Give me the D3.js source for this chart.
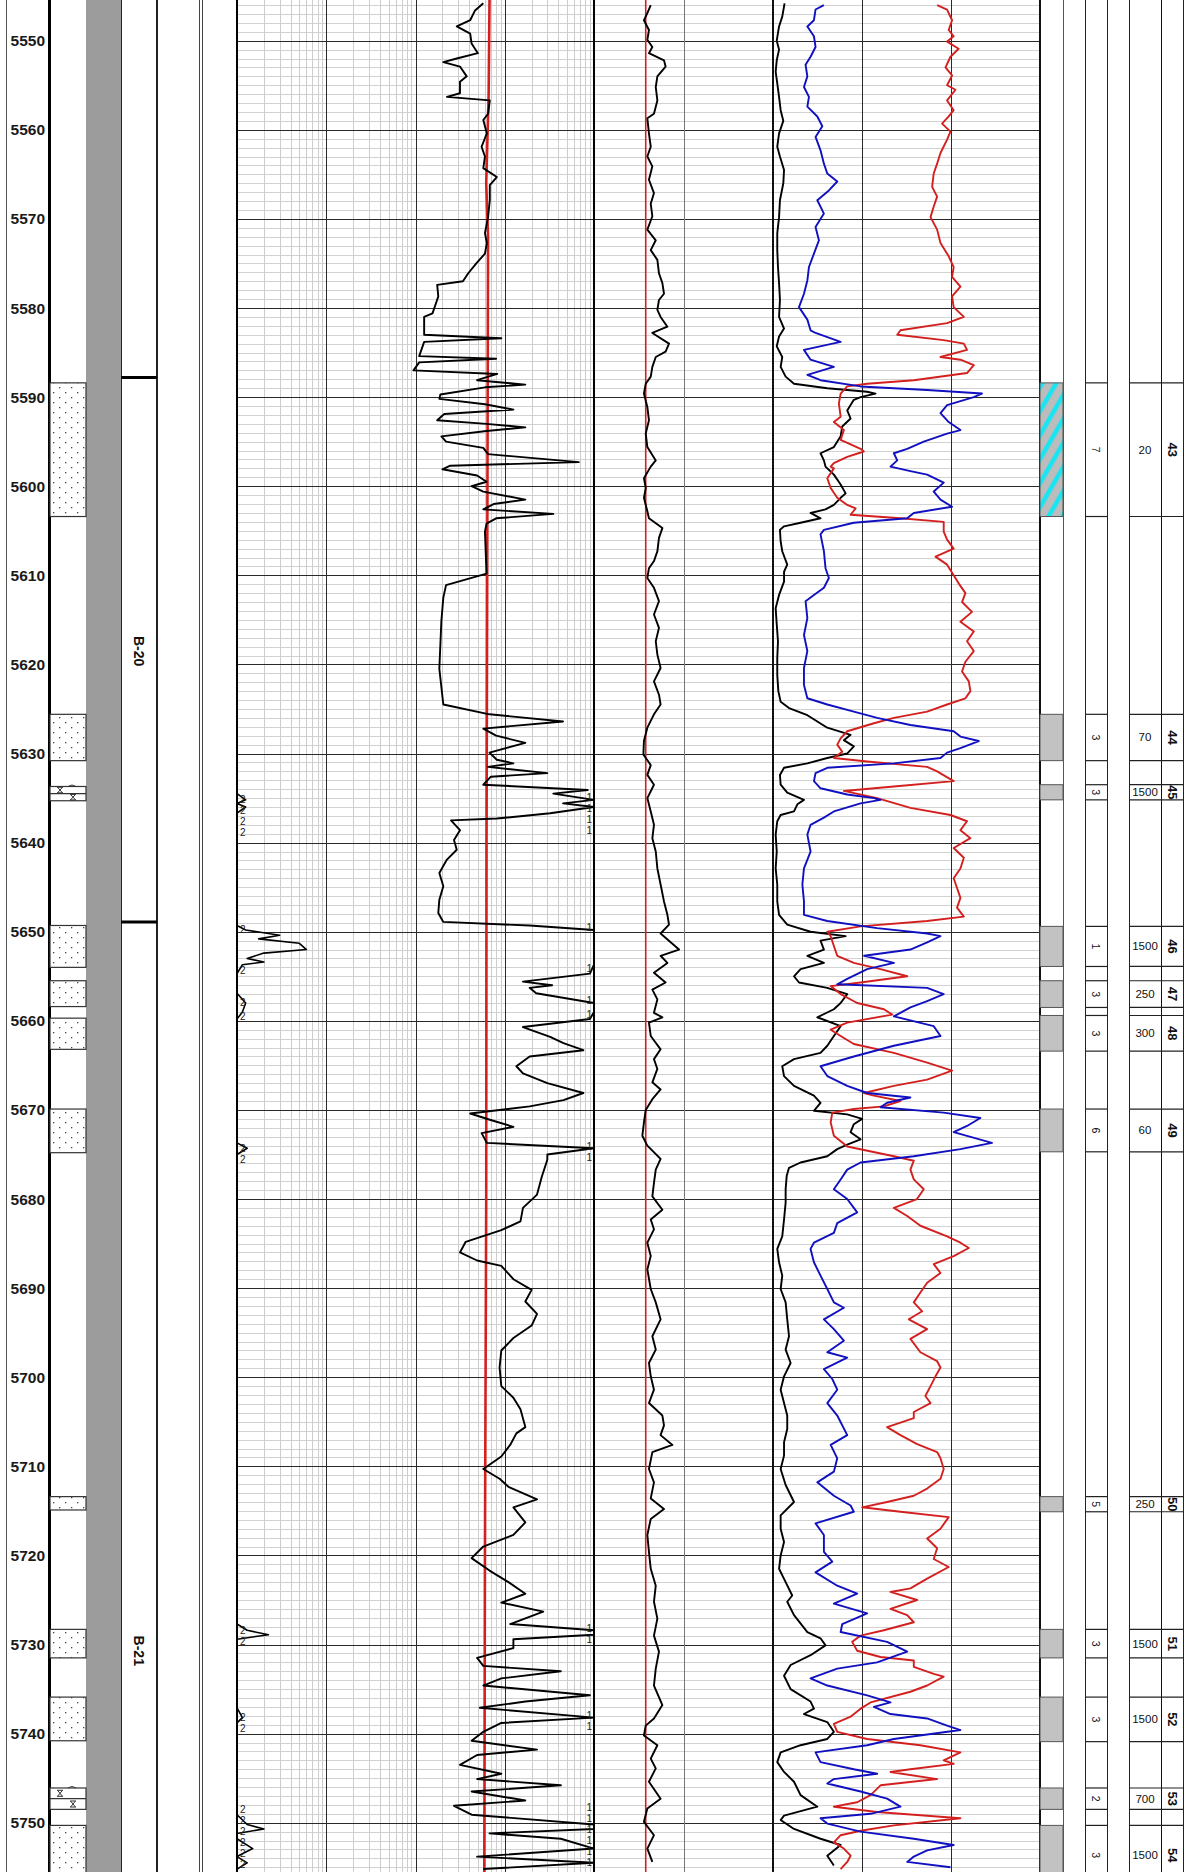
<!DOCTYPE html>
<html>
<head>
<meta charset="utf-8">
<script src="https://cdn.jsdelivr.net/npm/d3@7"></script>
<style>
  body { margin: 0; background: #fff; }
  svg { display: block; }
  text { font-family: "Liberation Sans", Arial, sans-serif; }
</style>
</head>
<body>
<script>
const depthLabels = [5550, 5560, 5570, 5580, 5590, 5600, 5610, 5620, 5630, 5640, 5650,
  5660, 5670, 5680, 5690, 5700, 5710, 5720, 5730, 5740, 5750];

const formationTop = [5587.8, 5648.9];
const formationName = ["B-20", "B-21"];
const formationLabelDepth = [5618.5, 5730.7];

const lithTop  = [5588.4, 5625.6, 5633.7, 5649.3, 5655.5, 5659.7, 5669.9, 5713.4, 5728.3, 5735.9, 5746.1, 5750.3];
const lithBase = [5603.4, 5630.8, 5635.3, 5654.0, 5658.4, 5663.2, 5674.8, 5714.9, 5731.5, 5740.8, 5748.5, 5757];
const lithType = ["sand", "sand", "lime", "sand", "sand", "sand", "sand", "sand", "sand", "sand", "lime", "sand"];

const zoneTop   = [5588.4, 5625.6, 5633.5, 5649.4, 5655.5, 5659.4, 5669.9, 5713.4, 5728.3, 5735.9, 5746.1, 5750.3];
const zoneBase  = [5603.4, 5630.8, 5635.2, 5653.9, 5658.5, 5663.4, 5674.7, 5715.1, 5731.5, 5740.9, 5748.5, 5757];
const zoneCount = ["7", "3", "3", "1", "3", "3", "6", "5", "3", "3", "2", "3"];
const zoneValue = ["20", "70", "1500", "1500", "250", "300", "60", "250", "1500", "1500", "700", "1500"];
const zoneId    = ["43", "44", "45", "46", "47", "48", "49", "50", "51", "52", "53", "54"];
const zoneHatch = [true, false, false, false, false, false, false, false, false, false, false, false];

// track 1 (log 0.2 - 2000), [depth, value]
const resDeep = [
  [5545.8,115],[5546.6,93],[5547.7,82],[5548.4,58],[5549.2,82],[5550.3,85],[5551.4,100],[5552.0,58],
  [5552.4,41],[5552.9,63],[5554.0,75],[5554.6,63],[5555.9,63],[5556.3,45],[5556.7,136],[5558.2,130],
  [5558.9,115],[5560.4,126],[5561.9,110],[5563.0,120],[5564.3,115],[5565.3,163],[5566.2,136],[5567.9,136],
  [5569.8,130],[5571.6,120],[5572.7,126],[5573.9,120],[5575.0,96],[5576.1,78],[5577.0,68],[5577.4,35],
  [5578.7,36],[5580.6,31],[5581.0,25],[5583.0,25],[5583.4,183],[5583.8,25],[5585.4,22],[5585.7,160],
  [5586.1,22],[5587.0,19],[5587.4,165],[5588.1,98],[5588.6,340],[5588.9,120],[5589.7,38],[5590.2,37],
  [5590.8,120],[5591.4,250],[5591.9,42],[5592.6,35],[5593.0,125],[5593.4,340],[5593.8,125],[5594.4,39],
  [5595.0,44],[5595.7,115],[5596.4,130],[5597.3,1350],[5597.7,49],[5598.1,40],[5598.8,98],[5599.5,125],
  [5600.0,85],[5600.6,115],[5601.5,340],[5602.0,150],[5602.6,115],[5603.1,700],[5603.6,160],[5604.2,125],
  [5605.1,120],[5609.8,125],[5611.1,44],[5612.5,41],[5615.1,39],[5620.5,37],[5624.5,41],[5625.6,135],[5626.4,900],[5627.2,115],
  [5628.0,160],[5628.8,340],[5629.9,135],[5630.7,163],[5631.1,250],[5631.5,130],[5632.2,600],[5632.6,140],
  [5633.5,115],[5634.1,1700],[5634.5,700],[5635.2,2500],[5635.6,900],[5636.0,2500],[5636.7,645],[5637.3,163],
  [5637.5,50],[5638.6,63],[5639.7,54],[5640.8,58],[5641.9,45],[5643.4,37],[5644.9,41],[5646.4,37],
  [5647.9,36],[5648.9,41],[5649.3,380],[5649.8,2500],[5650.4,6000],[5650.8,3500],[5651.3,10000],[5652.0,12000],
  [5652.4,4000],[5653.0,2600],[5653.4,4000],[5653.7,2300],[5654.7,1800],[5655.6,320],[5656.0,680],[5656.3,380],
  [5656.9,450],[5658.0,2500],[5659.0,2300],[5659.8,1800],[5660.7,320],[5661.8,645],[5662.5,910],[5663.3,1520],
  [5664.0,380],[5665.1,270],[5665.9,320],[5667.0,600],[5668.1,1520],[5668.9,910],[5669.6,380],[5670.4,82],
  [5671.1,136],[5671.9,250],[5672.6,110],[5673.7,126],[5674.3,2600],[5675.0,600],[5675.6,600],[5677.5,520],
  [5679.5,460],[5681.0,320],[5682.5,300],[5683.5,183],[5684.8,73],[5686.0,63],[5686.9,98],[5687.5,183],
  [5689.0,250],[5690.2,400],[5691.5,340],[5692.9,460],[5694.2,400],[5695.6,250],[5697.0,183],[5698.9,175],
  [5701.0,183],[5702.3,250],[5703.6,300],[5705.6,340],[5706.3,270],[5707.6,230],[5708.9,183],[5710.3,115],
  [5711.4,175],[5712.3,220],[5713.7,460],[5714.6,250],[5716.3,340],[5717.7,250],[5719.0,115],[5720.3,85],
  [5721.7,135],[5723.0,220],[5724.3,340],[5725.3,183],[5726.3,540],[5727.7,230],[5728.4,2600],[5728.9,4500],
  [5729.4,250],[5730.4,250],[5731.5,98],[5732.4,115],[5733.0,850],[5733.8,183],[5734.6,115],[5735.7,1800],
  [5736.4,340],[5737.1,105],[5738.2,2300],[5738.8,183],[5739.8,115],[5740.8,85],[5741.8,460],[5742.4,98],
  [5743.5,63],[5744.5,183],[5745.1,98],[5745.8,850],[5746.5,85],[5747.5,340],[5748.1,54],[5749.1,85],
  [5750.2,2600],[5750.7,4000],[5751.2,135],[5751.8,850],[5752.9,3000],[5753.8,98],[5754.5,2600],[5755.2,115]
];
const resShallow = [[5545.4,135],[5556,132],[5566,124],[5572,130],[5600,128],[5640,125],[5680,124],[5720,120],[5755.6,118]];

// track 2 (linear 0 - 100)
const spCurve = [
  [5546.0,31.7],[5546.9,29.8],[5547.7,27.9],[5548.8,30.7],[5549.9,29.8],[5550.7,32.6],[5551.4,30.7],[5552.2,39.1],
  [5552.9,40],[5554.0,35.4],[5555.2,34.5],[5556.7,35.4],[5558.2,33.5],[5558.7,29.8],[5560.4,30.7],[5561.9,31.7],
  [5563.0,29.8],[5564.1,32.6],[5565.6,30.7],[5567.1,33.5],[5568.3,31.7],[5569.7,32.6],[5571.2,29.8],[5572.4,34.5],
  [5573.5,31.7],[5574.6,35.4],[5576.1,36.3],[5577.2,38.2],[5578.4,39.1],[5579.1,36.3],[5580.2,35.4],[5581.0,37.2],
  [5582.1,41],[5582.8,32.6],[5584.0,41.9],[5584.9,40],[5585.5,34.5],[5586.6,32.6],[5587.7,31.7],[5588.5,28.9],
  [5589.6,27.9],[5591.1,29.8],[5592.6,30.7],[5594.1,28.9],[5595.6,29.8],[5597.1,34.5],[5597.8,31.7],[5599.1,27.9],
  [5600.2,28.9],[5601.3,27.9],[5602.8,29.8],[5603.6,30.7],[5604.7,38.2],[5605.8,36.3],[5607.3,35.4],[5608.4,33.5],
  [5609.2,30.7],[5610.3,29.8],[5611.4,33.5],[5612.9,36.3],[5614.4,33.5],[5615.9,36.3],[5617.4,34.5],[5618.9,35.4],
  [5620.4,37.2],[5621.9,33.5],[5623.4,36.3],[5624.5,37.2],[5625.6,33.5],[5627.1,29.8],[5628.6,27.9],[5630.1,27.6],
  [5631.3,31.7],[5632.4,29.8],[5633.5,33.5],[5635.0,29.8],[5636.5,31.7],[5638.0,33.5],[5639.5,32.6],[5641.0,34.5],
  [5642.9,35.4],[5644.7,37.2],[5646.6,39.1],[5648.1,41],[5649.2,41.9],[5650.2,37.2],[5652.0,47.5],[5652.7,37.2],
  [5653.5,41],[5654.6,33.5],[5655.7,40],[5656.5,32.6],[5657.6,35.4],[5659.1,33.5],[5659.6,38.2],[5660.2,30.7],
  [5661.7,31.7],[5663.2,37.2],[5664.3,33.5],[5665.4,35.4],[5666.9,32.6],[5667.7,37.2],[5668.8,32.6],[5670.0,28.9],
  [5671.4,27.9],[5672.9,27],[5674.0,29.8],[5675.5,37.2],[5676.7,34.5],[5678.2,33.5],[5679.7,32.6],[5681.2,38.2],
  [5682.3,31.7],[5683.4,33.5],[5684.9,29.8],[5686.4,31.7],[5687.9,29.8],[5690.1,31.7],[5691.6,34.5],[5693.5,37.2],
  [5695.4,32.6],[5696.9,34.5],[5698.4,30.7],[5699.9,31.7],[5701.4,33.5],[5702.9,30.7],[5704.3,38.2],[5705.4,39.1],
  [5706.5,37.2],[5707.6,43.8],[5708.4,32.6],[5710.3,30.7],[5711.8,33.5],[5713.6,31.7],[5714.8,39.1],[5715.9,31.7],
  [5717.7,29.8],[5719.6,30.7],[5721.5,31.7],[5723.4,34.5],[5725.2,33.5],[5727.1,35.4],[5729.0,33.5],[5730.8,36.3],
  [5732.7,34.5],[5734.6,33.5],[5736.8,38.2],[5738.3,33.5],[5739.1,28.9],[5740.2,27.9],[5741.3,35.4],[5742.8,31.7],
  [5743.9,34.5],[5745.4,30.7],[5747.3,37.2],[5748.4,29.8],[5749.9,27.9],[5751.4,33.5],[5752.9,29.8],[5754.4,32.6]
];
const spBase = [[5545.4,28.9],[5755.6,28.9]];

// track 3 (linear 0 - 150)
const grCurve = [
  [5545.8,6.5],[5547.3,5.2],[5548.4,3.4],[5550.0,2.1],[5551.0,3.4],[5552.2,2.1],[5553.5,1.5],[5554.8,2.4],
  [5556.3,3.4],[5557.8,4.3],[5559.0,5.8],[5560.4,3.4],[5561.9,2.4],[5563.0,3.9],[5564.5,6.2],[5566.0,5.8],
  [5567.9,3.9],[5569.8,3.4],[5571.6,2.4],[5573.5,2.4],[5575.4,2.8],[5577.2,3.4],[5579.1,3.9],[5581.0,3.4],
  [5582.3,6.2],[5583.2,3.4],[5584.3,2.1],[5585.5,5.2],[5586.6,4.3],[5587.7,7.1],[5588.5,11.8],[5589.0,30.5],
  [5589.4,52.9],[5589.6,57.6],[5590.0,49.2],[5590.3,45.4],[5591.5,41.7],[5592.4,43.6],[5593.3,38.9],[5594.4,38],
  [5595.6,34.2],[5596.3,26.7],[5597.1,28.6],[5597.8,29.5],[5598.7,34.2],[5599.8,38],[5600.8,40.8],[5601.3,38],
  [5602.1,34.2],[5602.6,29.5],[5603.0,21.1],[5603.6,26.7],[5604.1,15.5],[5604.5,6.2],[5604.9,3.9],[5606.2,4.3],
  [5607.3,5.2],[5608.8,8],[5609.6,6.2],[5610.7,6.2],[5612.2,3.4],[5613.7,1.5],[5615.5,2.1],[5617.4,2.8],
  [5619.3,2.4],[5621.2,2.4],[5623.0,3],[5624.2,4.3],[5624.9,9],[5625.7,19.3],[5626.4,24.9],[5627.1,30.5],
  [5627.9,43.6],[5628.5,39.8],[5629.2,45.4],[5630.0,41.7],[5630.5,30.5],[5631.1,19.3],[5631.6,6.2],[5632.4,3.9],
  [5633.5,4.3],[5634.4,8],[5635.2,17.4],[5635.7,13.7],[5636.5,11.8],[5636.9,4.3],[5637.6,2.4],[5639.1,1.5],
  [5641.0,2.1],[5642.9,1.5],[5644.7,2.4],[5646.6,2.4],[5648.1,3.4],[5649.2,8],[5650.0,21.1],[5650.5,40.8],
  [5651.0,26.7],[5652.0,28.6],[5652.7,19.3],[5653.5,28.6],[5654.2,15.5],[5655.0,11.8],[5655.7,14.6],[5656.3,30.5],
  [5657.0,41.7],[5658.0,38],[5658.7,34.2],[5659.6,24.9],[5660.6,38],[5661.7,34.2],[5662.8,30.5],[5663.6,26.7],
  [5664.3,11.8],[5665.1,5.2],[5666.2,6.2],[5667.3,11.8],[5668.4,23],[5669.2,26.7],[5670.1,23],[5670.5,41.7],
  [5671.0,50.1],[5671.6,45.4],[5672.5,43.6],[5673.3,49.2],[5673.9,41.7],[5674.4,36.1],[5675.2,30.5],[5675.9,15.5],
  [5676.5,9],[5677.4,7.7],[5678.9,7.1],[5680.4,7.1],[5682.3,6.2],[5684.2,5.2],[5685.6,2.4],[5687.1,3.4],
  [5688.6,5.2],[5690.1,4.3],[5691.6,7.1],[5693.5,8],[5695.4,9],[5696.9,7.1],[5698.4,9.9],[5699.9,6.2],
  [5701.4,4.3],[5702.9,6.2],[5704.3,8],[5705.8,8],[5707.3,6.2],[5708.8,6.2],[5710.3,4.3],[5712.1,7.1],
  [5714.0,11.8],[5715.5,4.3],[5717.0,4.3],[5718.5,6.2],[5720.0,4.3],[5721.5,3.4],[5723.0,7.1],[5724.5,10.8],
  [5725.2,8],[5726.7,11.8],[5728.6,19.3],[5729.3,26.7],[5730.1,29.5],[5731.2,21.1],[5732.3,9.9],[5733.5,6.2],
  [5735.0,9.9],[5736.4,21.1],[5737.2,23],[5737.8,17.4],[5738.7,30.5],[5739.8,34.2],[5740.6,30.5],[5741.3,15.5],
  [5742.1,4.3],[5743.2,2.4],[5744.3,6.2],[5745.4,11.8],[5746.9,15.5],[5748.2,24.9],[5749.2,6.2],[5749.7,4.3],
  [5750.7,11.8],[5751.8,26.7],[5752.5,38],[5753.7,30.5],[5754.8,34.2]
];
const neuCurve = [
  [5546.0,28.6],[5546.5,23.9],[5547.7,23],[5548.4,19.3],[5549.5,23],[5550.7,23.9],[5551.8,21.1],[5552.7,18.3],
  [5554.0,19.3],[5555.2,17.4],[5556.3,20.2],[5557.4,19.3],[5558.5,24.9],[5559.6,27.7],[5560.8,23.9],[5562.3,26.7],
  [5563.8,28.6],[5564.9,30.5],[5565.8,36.1],[5566.8,31.4],[5567.9,24.9],[5569.4,28.6],[5570.9,23.9],[5572.4,25.8],
  [5573.9,23],[5575.4,20.2],[5576.9,19.3],[5578.4,17.4],[5579.9,14.6],[5581.3,19.3],[5582.5,21.1],[5582.8,23.9],
  [5583.8,38],[5584.7,17.4],[5585.8,21.1],[5586.6,34.2],[5587.5,19.3],[5588.1,26.7],[5588.8,49.2],[5589.2,86.6],
  [5589.6,117.4],[5590.0,112.8],[5590.9,97.8],[5591.8,94.1],[5592.8,98.7],[5593.7,105.3],[5594.1,97.8],[5595.0,84.7],
  [5595.8,75.4],[5596.3,67.9],[5597.1,69.8],[5597.8,66],[5598.3,77.2],[5598.7,86.6],[5599.6,95.9],[5600.6,90.3],
  [5601.5,94.1],[5602.3,100.6],[5603.0,79.1],[5603.6,75.4],[5604.1,45.4],[5604.9,28.6],[5605.4,26.7],[5607.3,28.6],
  [5609.2,29.5],[5610.3,31.4],[5611.4,28.6],[5612.2,23],[5612.9,18.3],[5614.8,19.3],[5616.7,17.4],[5618.5,19.3],
  [5620.4,17.4],[5622.3,17.4],[5623.8,19.3],[5624.5,30.5],[5625.3,45.4],[5626.0,58.5],[5626.8,77.2],[5627.5,101.5],
  [5628.1,105.3],[5628.6,115.6],[5629.4,105.3],[5629.9,97.8],[5630.5,94.1],[5631.1,67.9],[5631.6,30.5],[5632.2,23.9],
  [5633.1,23],[5633.9,26.7],[5634.6,41.7],[5635.0,56.7],[5635.2,60.4],[5635.6,49.2],[5636.5,34.2],[5637.2,28.6],
  [5638.0,21.1],[5639.1,19.3],[5641.0,21.1],[5642.9,17.4],[5644.7,16.5],[5646.6,17.4],[5648.1,17.4],[5648.8,30.5],
  [5649.6,58.5],[5650.2,86.6],[5650.5,94.1],[5651.2,86.6],[5652.0,77.2],[5652.7,51.2],[5653.5,67.9],[5654.2,52.9],
  [5655.3,41.7],[5655.9,36.1],[5656.3,86.6],[5657.0,95.9],[5657.8,86.6],[5658.5,77.2],[5659.5,67.9],[5660.6,90.3],
  [5661.7,94.1],[5662.8,67.9],[5664.0,45.4],[5665.1,26.7],[5666.2,30.5],[5667.3,41.7],[5668.1,52.9],[5668.6,77.2],
  [5669.2,64.1],[5669.7,60.4],[5670.3,95.9],[5670.9,116.5],[5671.8,109],[5672.5,101.5],[5673.7,123],[5674.4,105.3],
  [5675.2,79.1],[5675.9,49.2],[5676.7,41.7],[5677.8,38],[5678.9,34.2],[5680.0,41.7],[5681.5,47.3],[5682.7,36.1],
  [5683.8,34.2],[5684.9,23],[5685.6,21.1],[5687.1,23],[5688.6,26.7],[5690.1,30.5],[5691.6,34.2],[5692.2,39.8],
  [5693.5,28.6],[5694.6,34.2],[5695.9,39.8],[5697.2,30.5],[5697.8,41.7],[5699.1,28.6],[5700.2,33.3],[5701.4,36.1],
  [5702.9,30.5],[5704.3,36.1],[5706.5,41.7],[5707.6,32.4],[5709.1,36.1],[5710.6,34.2],[5711.8,24.9],[5713.3,34.2],
  [5714.4,43.6],[5715.1,45.4],[5716.4,23.9],[5717.7,28.6],[5719.6,28.6],[5720.7,33.3],[5721.9,23.9],[5723.4,36.1],
  [5724.3,47.3],[5725.4,34.2],[5726.5,52.9],[5727.7,38.9],[5728.6,38],[5729.7,64.1],[5730.8,75.4],[5732.0,58.5],
  [5732.7,36.1],[5733.8,21.1],[5734.6,30.5],[5735.7,52.9],[5736.5,66],[5737.0,56.7],[5737.8,66],[5738.3,86.6],
  [5739.1,97.8],[5739.6,105.3],[5740.6,67.9],[5741.3,52.9],[5742.1,23.9],[5743.2,26.7],[5744.0,45.4],[5744.5,58.5],
  [5745.1,34.2],[5745.6,30.5],[5746.5,49.2],[5747.3,64.1],[5748.2,71.6],[5749.0,54.8],[5749.5,26.7],[5750.1,30.5],
  [5751.0,49.2],[5751.8,79.1],[5752.5,101.5],[5753.1,86.6],[5753.8,79.1],[5754.4,75.4],[5755.0,99.7]
];
const denCurve = [
  [5546.0,92.2],[5546.5,97.8],[5547.7,100.6],[5548.8,98.7],[5549.5,101.5],[5550.1,97.8],[5550.9,104.3],[5551.8,99.7],
  [5553.0,96.9],[5553.9,100.6],[5555.0,97.8],[5555.5,102.5],[5556.7,97.8],[5557.8,101.5],[5558.5,98.7],[5559.3,95],
  [5560.2,99.7],[5561.1,97.8],[5562.6,94.1],[5563.8,92.2],[5564.9,90.3],[5566.4,89.4],[5567.5,92.2],[5568.6,90.3],
  [5569.8,88.5],[5571.2,92.2],[5572.7,94.1],[5574.2,98.7],[5575.4,101.5],[5576.5,100.6],[5577.6,105.3],[5578.7,100.6],
  [5579.9,101.5],[5581.0,107.2],[5581.7,97.8],[5582.5,71.6],[5583.0,69.8],[5583.6,95.9],[5584.0,107.2],[5584.7,109],
  [5585.5,94.1],[5585.8,105.3],[5586.4,112.8],[5587.3,109],[5588.1,79.1],[5588.5,52.9],[5588.8,41.7],[5589.6,38],
  [5590.7,37],[5592.2,38],[5592.8,34.2],[5593.7,39.8],[5594.8,38],[5595.8,49.2],[5596.1,51],[5596.7,41.7],
  [5597.4,34.2],[5597.8,32.4],[5598.0,34.2],[5599.1,30.5],[5600.2,32.4],[5601.3,36.1],[5602.1,41.7],[5602.5,46.4],
  [5603.2,43.6],[5603.6,71.6],[5604.0,95.9],[5605.1,95.9],[5606.0,97.8],[5607.0,101.5],[5607.9,91.3],[5608.8,97.8],
  [5610.0,101.5],[5610.9,104.3],[5612.0,108.1],[5613.0,106.2],[5614.1,111.8],[5615.2,105.3],[5616.3,112.8],[5617.4,109],
  [5618.5,112.8],[5619.7,108.1],[5620.8,106.2],[5621.9,110],[5623.0,110.9],[5623.8,108.1],[5624.5,97.8],[5625.3,86.6],
  [5626.0,67.9],[5626.6,56.7],[5627.5,41.7],[5628.3,38],[5629.0,36.1],[5629.8,38.9],[5630.5,34.2],[5630.9,52.9],
  [5631.5,86.6],[5632.0,92.2],[5633.1,101.5],[5633.7,67.9],[5634.2,39.8],[5635.0,58.5],[5636.1,77.2],[5636.9,99.7],
  [5637.6,109],[5638.6,105.3],[5639.5,110.9],[5640.6,101.5],[5641.7,107.2],[5642.9,105.3],[5644.0,101.5],[5645.1,103.4],
  [5646.2,105.3],[5647.3,103.4],[5648.3,107.2],[5648.8,86.6],[5649.4,49.2],[5650.0,30.5],[5650.5,32.4],[5651.6,34.2],
  [5652.7,36.1],[5653.5,45.4],[5654.2,60.4],[5655.0,75.4],[5655.7,49.2],[5656.1,32.4],[5657.0,38],[5658.0,47.3],
  [5658.7,62.3],[5659.3,67],[5660.2,41.7],[5661.0,32.4],[5661.7,38],[5662.6,45.4],[5663.6,67.9],[5664.7,86.6],
  [5665.6,100.6],[5666.6,86.6],[5667.3,67.9],[5668.1,51.1],[5668.4,56.7],[5669.0,71.6],[5669.6,62.3],[5669.9,45.4],
  [5670.3,33.3],[5671.4,32.4],[5672.9,34.2],[5674.1,41.7],[5675.2,67.9],[5675.7,79.1],[5676.7,77.2],[5677.8,79.1],
  [5678.9,84.7],[5680.0,80.9],[5681.0,67.9],[5681.9,75.4],[5683.0,82.8],[5684.2,97.8],[5684.9,105.3],[5685.5,110],
  [5686.4,101.5],[5687.3,90.3],[5688.3,94.1],[5689.4,86.6],[5690.5,82.8],[5691.6,79.1],[5692.6,83.8],[5693.5,76.3],
  [5694.6,86.6],[5695.7,77.2],[5697.2,82.8],[5698.2,92.2],[5698.9,94.1],[5699.9,91.3],[5701.0,88.5],[5702.1,85.6],
  [5702.9,88.5],[5703.9,79.1],[5704.6,79.1],[5705.6,64.1],[5706.5,71.6],[5707.5,81],[5708.4,92.2],[5709.1,94.1],
  [5710.3,95.9],[5711.4,94.1],[5712.5,86.6],[5713.3,79.1],[5714.0,64.1],[5714.6,50.1],[5715.1,71.6],[5715.7,98.7],
  [5717.0,94.1],[5718.1,86.6],[5719.2,92.2],[5720.4,90.3],[5721.3,98.7],[5722.6,86.6],[5723.7,77.2],[5724.1,66],
  [5725.0,81],[5726.0,66],[5726.7,75.4],[5727.5,79.1],[5728.4,62.3],[5729.0,49.2],[5729.7,44.5],[5730.7,47.3],
  [5731.4,60.4],[5731.8,79.1],[5732.5,79.1],[5733.3,90.3],[5733.6,95.9],[5734.6,86.6],[5735.3,77.2],[5736.5,54.8],
  [5737.2,49.2],[5738.1,43.6],[5738.9,34.2],[5739.8,36.1],[5740.6,52.9],[5741.3,82.8],[5742.1,105.3],[5743.0,95.9],
  [5743.4,101.5],[5744.0,77.2],[5744.3,66],[5745.1,92.2],[5745.8,60.4],[5746.9,54.8],[5747.7,47.3],[5748.2,34.2],
  [5748.8,58.5],[5749.5,105.3],[5750.3,67.9],[5750.9,49.2],[5751.4,38],[5752.2,34.2],[5752.9,39.8],[5753.7,43.6],
  [5754.4,41.7],[5755.2,38]
];

// ---------- drawing ----------
const W = 1195, H = 1872;
const svg = d3.select("body").append("svg").attr("width", W).attr("height", H);
const y = d3.scaleLinear().domain([5545.43, 5755.53]).range([0, H]);

const xRes = d3.scaleLog().domain([0.2, 2000]).range([237, 594]).clamp(true);
const xResBack = d3.scaleLog().domain([2000, 2e7]).range([237, 594]).clamp(true);
const xSp = d3.scaleLinear().domain([0, 100]).range([594, 773]);
const xT3 = d3.scaleLinear().domain([0, 150]).range([773, 1040]);

const px = v => Math.round(v) + 0.5;

const defs = svg.append("defs");
const sand = defs.append("pattern").attr("id", "sand").attr("patternUnits", "userSpaceOnUse")
    .attr("x", 50).attr("y", 0).attr("width", 12).attr("height", 10);
sand.append("rect").attr("width", 12).attr("height", 10).attr("fill", "#fff");
sand.append("rect").attr("x", 3).attr("y", 2).attr("width", 1.3).attr("height", 1.3).attr("fill", "#444");
sand.append("rect").attr("x", 9).attr("y", 7).attr("width", 1.3).attr("height", 1.3).attr("fill", "#444");

const hatch = defs.append("pattern").attr("id", "hatch").attr("patternUnits", "userSpaceOnUse")
    .attr("width", 12).attr("height", 12).attr("patternTransform", "rotate(30)");
hatch.append("rect").attr("width", 12).attr("height", 12).attr("fill", "#bcbcbc");
hatch.append("rect").attr("width", 4.5).attr("height", 12).attr("fill", "#19e4f2");

// grid
const grid = svg.append("g").attr("shape-rendering", "crispEdges");
const minorDepths = d3.range(5546, 5756).filter(d => d % 10 !== 0);
grid.selectAll(".hmin").data(minorDepths).join("line")
    .attr("x1", 237).attr("x2", 1040)
    .attr("y1", d => px(y(d))).attr("y2", d => px(y(d)))
    .attr("stroke", "#d2d2d2").attr("stroke-width", 1);

const logMinor = [];
[0.2, 2, 20, 200].forEach(b => { for (let k = 2; k <= 9; k++) logMinor.push(b * k); });
grid.selectAll(".vmin").data(logMinor.filter(v => v < 2000 && ![2, 20, 200].includes(v))).join("line")
    .attr("x1", d => px(xRes(d))).attr("x2", d => px(xRes(d)))
    .attr("y1", 0).attr("y2", H)
    .attr("stroke", "#cdcdcd").attr("stroke-width", 1);

const majorDepths = d3.range(5550, 5751, 10);
grid.selectAll(".hmaj").data(majorDepths).join("line")
    .attr("x1", 237).attr("x2", 1040)
    .attr("y1", d => px(y(d))).attr("y2", d => px(y(d)))
    .attr("stroke", "#2a2a2a").attr("stroke-width", 1.4);

[2, 20, 200].forEach(v => grid.append("line").attr("x1", px(xRes(v))).attr("x2", px(xRes(v)))
    .attr("y1", 0).attr("y2", H).attr("stroke", "#2a2a2a").attr("stroke-width", 1.4));
grid.append("line").attr("x1", px(xSp(50))).attr("x2", px(xSp(50))).attr("y1", 0).attr("y2", H)
    .attr("stroke", "#777").attr("stroke-width", 1);
[50, 100].forEach(v => grid.append("line").attr("x1", px(xT3(v))).attr("x2", px(xT3(v)))
    .attr("y1", 0).attr("y2", H).attr("stroke", "#2a2a2a").attr("stroke-width", 1.2));

// frame lines
const frame = svg.append("g").attr("shape-rendering", "crispEdges");
const vline = (x, c, w) => frame.append("line").attr("x1", x).attr("x2", x).attr("y1", 0).attr("y2", H)
    .attr("stroke", c).attr("stroke-width", w);

// left panel
svg.append("rect").attr("x", 86).attr("y", 0).attr("width", 35).attr("height", H).attr("fill", "#9c9c9c");

const lith = svg.append("g");
lithTop.forEach((t, i) => {
  const y0 = y(t), y1 = y(lithBase[i]);
  lith.append("rect").attr("x", 50).attr("y", y0).attr("width", 36).attr("height", y1 - y0)
      .attr("fill", lithType[i] === "sand" ? "url(#sand)" : "#fff")
      .attr("stroke", "#333").attr("stroke-width", 1.2);
  if (lithType[i] === "lime") {
    const ym = (y0 + y1) / 2, hh = (y1 - y0) / 2;
    lith.append("line").attr("x1", 50).attr("x2", 86).attr("y1", ym).attr("y2", ym)
        .attr("stroke", "#333").attr("stroke-width", 1.2);
    [[60, y0 + hh / 2], [73, ym + hh / 2]].forEach(([cx, cy]) => {
      const s = Math.min(3, hh / 2 - 0.8);
      lith.append("path")
          .attr("d", `M${cx - 3},${cy - s}H${cx + 3}M${cx - 3},${cy + s}H${cx + 3}M${cx - 2.5},${cy - s}L${cx + 2.5},${cy + s}M${cx + 2.5},${cy - s}L${cx - 2.5},${cy + s}`)
          .attr("fill", "none").attr("stroke", "#333").attr("stroke-width", 1);
    });
    lith.append("path").attr("d", `M${68},${y0}q4,-3 8,0`).attr("fill", "none").attr("stroke", "#333");
  }
});

formationTop.forEach(t => {
  svg.append("line").attr("x1", 121).attr("x2", 157).attr("y1", y(t)).attr("y2", y(t))
      .attr("stroke", "#000").attr("stroke-width", 3);
});
formationName.forEach((n, i) => {
  svg.append("text").attr("transform", `translate(139,${y(formationLabelDepth[i])}) rotate(90)`)
      .attr("text-anchor", "middle").attr("dominant-baseline", "central")
      .attr("font-size", 14).attr("font-weight", "bold").attr("fill", "#111").text(n);
});

svg.append("g").selectAll("text").data(depthLabels).join("text")
    .attr("x", 45).attr("y", d => y(d)).attr("dominant-baseline", "central")
    .attr("text-anchor", "end").attr("font-size", 15.5).attr("font-weight", "bold")
    .attr("fill", "#1a1a1a").text(d => d);

// right panel zones
const zones = svg.append("g");
zoneTop.forEach((t, i) => {
  const y0 = y(t), y1 = y(zoneBase[i]), ym = (y0 + y1) / 2;
  zones.append("rect").attr("x", 1040).attr("y", y0).attr("width", 23).attr("height", y1 - y0)
      .attr("fill", zoneHatch[i] ? "url(#hatch)" : "#c2c2c2").attr("stroke", "#555").attr("stroke-width", 1);
  [[1085, 1107], [1129, 1183]].forEach(([a, b]) => {
    [y0, y1].forEach(yy => zones.append("line").attr("x1", a).attr("x2", b).attr("y1", yy).attr("y2", yy)
        .attr("stroke", "#222").attr("stroke-width", 1.2));
  });
  zones.append("text").attr("transform", `translate(1096,${ym}) rotate(90)`)
      .attr("text-anchor", "middle").attr("dominant-baseline", "central")
      .attr("font-size", 10.5).attr("fill", "#111").text(zoneCount[i]);
  zones.append("text").attr("x", 1145).attr("y", ym).attr("text-anchor", "middle")
      .attr("dominant-baseline", "central").attr("font-size", 11.5).attr("fill", "#111").text(zoneValue[i]);
  zones.append("text").attr("transform", `translate(1172,${ym}) rotate(90)`)
      .attr("text-anchor", "middle").attr("dominant-baseline", "central")
      .attr("font-size", 13).attr("font-weight", "bold").attr("fill", "#111").text(zoneId[i]);
});

// curves
const curves = svg.append("g").attr("fill", "none").attr("stroke-linejoin", "round");
const lineOf = xs => d3.line().x(d => xs(d[1])).y(d => y(d[0]));

curves.append("path").datum(resShallow).attr("d", lineOf(xRes)).attr("stroke", "#d3201f").attr("stroke-width", 2.6);
curves.append("path").datum(resDeep).attr("d", lineOf(xRes)).attr("stroke", "#000").attr("stroke-width", 1.9);
curves.append("path").datum(resDeep).attr("d", lineOf(xResBack)).attr("stroke", "#000").attr("stroke-width", 1.6);

curves.append("path").datum(spBase).attr("d", lineOf(xSp)).attr("stroke", "#d3201f").attr("stroke-width", 1.6);
curves.append("path").datum(spCurve).attr("d", lineOf(xSp)).attr("stroke", "#000").attr("stroke-width", 1.9);

curves.append("path").datum(grCurve).attr("d", lineOf(xT3)).attr("stroke", "#000").attr("stroke-width", 1.9);
curves.append("path").datum(denCurve).attr("d", lineOf(xT3)).attr("stroke", "#d3201f").attr("stroke-width", 1.9);
curves.append("path").datum(neuCurve).attr("d", lineOf(xT3)).attr("stroke", "#1010c0").attr("stroke-width", 1.9);

// wrap markers where the deep curve leaves / re-enters the scale (kept apart, kept inside)
const marks = svg.append("g").attr("font-size", 10).attr("fill", "#222");
const markY = [];
for (let i = 1; i < resDeep.length; i++) {
  const [d0, v0] = resDeep[i - 1], [d1, v1] = resDeep[i];
  if ((v0 >= 2000) !== (v1 >= 2000)) {
    const f = (Math.log(2000) - Math.log(v0)) / (Math.log(v1) - Math.log(v0));
    markY.push(y(d0 + f * (d1 - d0)));
  }
}
for (let i = 1; i < markY.length; i++) if (markY[i] - markY[i - 1] < 11) markY[i] = markY[i - 1] + 11;
for (let i = markY.length - 1; i >= 0; i--) {
  const limit = i === markY.length - 1 ? H - 8 : markY[i + 1] - 11;
  if (markY[i] > limit) markY[i] = limit;
}
markY.forEach(yy => {
  marks.append("text").attr("x", 592).attr("y", yy + 2).attr("text-anchor", "end").text("1");
  marks.append("text").attr("x", 240).attr("y", yy + 4).text("2");
});

// frame on top
vline(6.5, "#555", 1);
vline(49.5, "#000", 2.5);
vline(86.5, "#555", 1);
vline(121.5, "#222", 1.5);
vline(157, "#222", 1.5);
vline(199.5, "#444", 1);
vline(202.5, "#444", 1);
vline(237, "#000", 2.2);
vline(594, "#000", 2);
vline(773, "#111", 2);
vline(1040, "#111", 2);
vline(1063.5, "#555", 1);
vline(1085.5, "#222", 1.2);
vline(1107.5, "#222", 1.2);
vline(1129.5, "#222", 1.2);
vline(1161.5, "#111", 1.5);
vline(1183.5, "#222", 1.2);
</script>
</body>
</html>
